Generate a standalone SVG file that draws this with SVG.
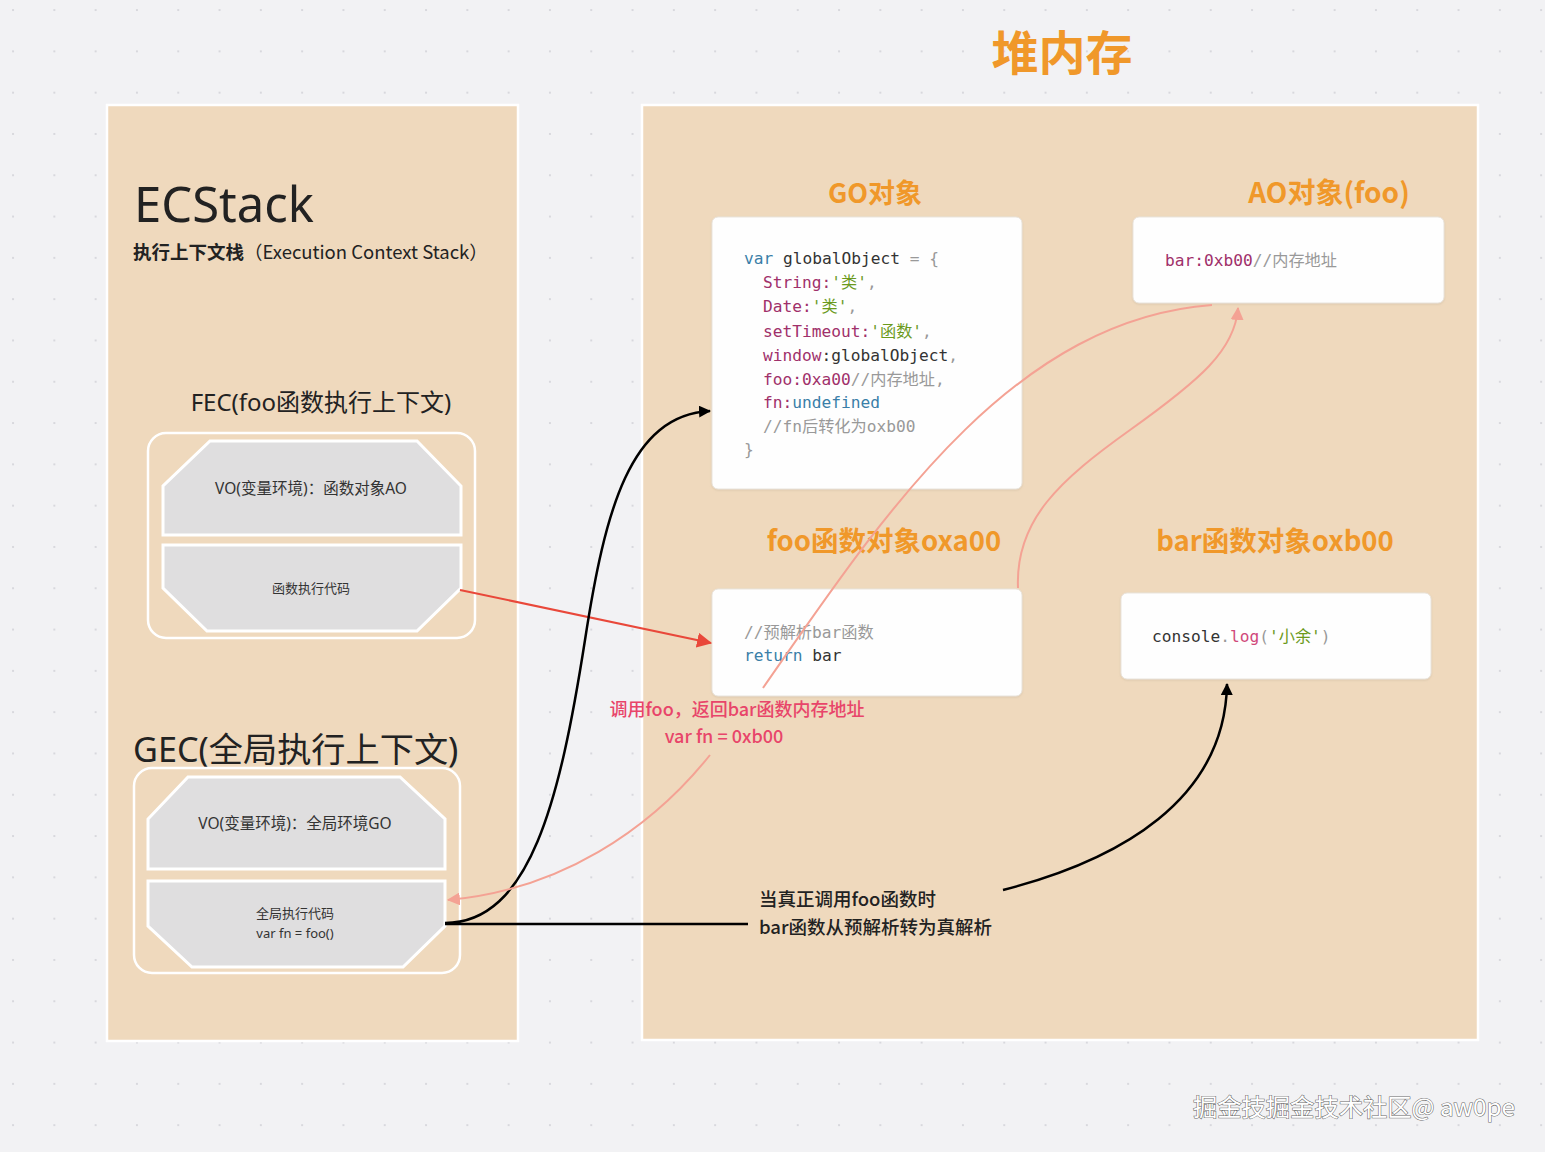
<svg xmlns="http://www.w3.org/2000/svg" width="1545" height="1152" viewBox="0 0 1545 1152">
<defs>
  <pattern id="dots" patternUnits="userSpaceOnUse" x="-7.6" y="-10.6" width="41.3" height="41.3">
    <circle cx="20.65" cy="20.65" r="0.9" fill="#cdcdd2"/>
  </pattern>
  <marker id="ah-black" viewBox="0 0 12 12" refX="11" refY="6" markerWidth="12" markerHeight="12" markerUnits="userSpaceOnUse" orient="auto">
    <path d="M0,0 L12,6 L0,12 Z" fill="#000"/>
  </marker>
  <marker id="ah-red" viewBox="0 0 14 14" refX="13" refY="7" markerWidth="15" markerHeight="15" markerUnits="userSpaceOnUse" orient="auto">
    <path d="M0,0 L14,7 L0,14 Z" fill="#e9483a"/>
  </marker>
  <marker id="ah-salmon" viewBox="0 0 12 12" refX="11" refY="6" markerWidth="13" markerHeight="13" markerUnits="userSpaceOnUse" orient="auto">
    <path d="M0,0 L12,6 L0,12 Z" fill="#f4a294"/>
  </marker>
  <filter id="sh" x="-5%" y="-5%" width="110%" height="115%">
    <feDropShadow dx="0" dy="1" stdDeviation="1.2" flood-color="#b9a88f" flood-opacity="0.35"/>
  </filter>
</defs>
<style>
  .panel { fill: #efd9bd; stroke: #ffffff; stroke-width: 2.5; }
  .frame { fill: none; stroke: #ffffff; stroke-width: 2.5; }
  .oct { fill: #dfdedf; stroke: #ffffff; stroke-width: 3; }
  .card { fill: #fefefe; stroke: #e9e4dc; stroke-width: 1; }
  .sans { font-family: "Noto Sans", "Noto Sans CJK SC", sans-serif; }
  .cjk { font-family: "Noto Sans CJK SC", "Noto Sans", sans-serif; }
  .orange { fill: #f0982a; font-weight: bold; }
  .dark { fill: #222222; }
  .octtxt { fill: #333333; font-size: 15.5px; }
  .small { fill: #333333; font-size: 13px; }
  .code { font-family: "DejaVu Sans Mono", "Noto Sans CJK SC", monospace; font-size: 16.2px; fill: #333333; }
  .kw { fill: #3a7ea8; }
  .prop { fill: #a0306a; }
  .str { fill: #6b9a1c; }
  .pun { fill: #999999; }
  .cmt { fill: #999999; }
  .fnc { fill: #d0487a; }
  .redtxt { fill: #e8456a; font-size: 18px; font-weight: 500; }
  .conn-black { fill: none; stroke: #000; stroke-width: 2.5; }
  .conn-red { fill: none; stroke: #e9483a; stroke-width: 2; }
  .conn-salmon { fill: none; stroke: #f4a294; stroke-width: 2; }
  .wm { font-family: "Noto Sans CJK SC", "Noto Sans", sans-serif; font-size: 24px; fill: #ffffff; stroke: #6a6a6a; stroke-width: 1.1; paint-order: stroke; }
</style>

<rect x="0" y="0" width="1545" height="1152" fill="#f2f2f4"/>
<rect x="0" y="0" width="1545" height="1152" fill="url(#dots)"/>

<g id="title">
  <text x="1062" y="70" text-anchor="middle" class="cjk orange" font-size="47">堆内存</text>
</g>

<g id="ecstack-panel">
  <rect class="panel" x="107" y="105" width="411" height="936"/>
  <text x="134" y="222" class="sans dark" font-size="49">ECStack</text>
  <text x="133" y="259" class="cjk dark" font-size="18.5"><tspan font-weight="bold">执行上下文栈</tspan><tspan>（Execution Context Stack）</tspan></text>
</g>

<g id="heap-panel">
  <rect class="panel" x="642" y="105" width="836" height="935"/>
</g>

<g id="fec">
  <text x="321" y="411" text-anchor="middle" class="sans dark" font-size="24">FEC(foo函数执行上下文)</text>
  <rect class="frame" x="148" y="433" width="327" height="205" rx="18"/>
  <g id="fec-vo">
    <polygon class="oct" points="210,441 417,441 461,486 461,535 163,535 163,486"/>
    <text x="311" y="494" text-anchor="middle" class="sans octtxt">VO(变量环境)：函数对象AO</text>
  </g>
  <g id="fec-code">
    <polygon class="oct" points="163,545 461,545 461,588 417,631 207,631 163,588"/>
    <text x="311" y="593" text-anchor="middle" class="sans small">函数执行代码</text>
  </g>
</g>

<g id="gec">
  <text x="133" y="762" class="sans dark" font-size="34.2">GEC(全局执行上下文)</text>
  <rect class="frame" x="134" y="768" width="326" height="205" rx="18"/>
  <g id="gec-vo">
    <polygon class="oct" points="188,777 400,777 445,819 445,869 148,869 148,819"/>
    <text x="295" y="829" text-anchor="middle" class="sans octtxt">VO(变量环境)：全局环境GO</text>
  </g>
  <g id="gec-code">
    <polygon class="oct" points="148,881 445,881 445,926 403,967 192,967 148,926"/>
    <text x="295" y="918" text-anchor="middle" class="sans small">全局执行代码</text>
    <text x="295" y="938" text-anchor="middle" class="sans small">var fn = foo()</text>
  </g>
</g>

<g id="go-object">
  <text x="875" y="203" text-anchor="middle" class="cjk orange" font-size="27">GO对象</text>
  <rect class="card" x="712" y="217" width="310" height="272" rx="6" filter="url(#sh)"/>
  <text class="code" x="744" y="264"><tspan class="kw">var</tspan> globalObject <tspan class="pun">= {</tspan></text>
  <text class="code" x="763" y="288"><tspan class="prop">String</tspan><tspan class="prop">:</tspan><tspan class="str">'类'</tspan><tspan class="pun">,</tspan></text>
  <text class="code" x="763" y="312"><tspan class="prop">Date</tspan><tspan class="prop">:</tspan><tspan class="str">'类'</tspan><tspan class="pun">,</tspan></text>
  <text class="code" x="763" y="337"><tspan class="prop">setTimeout</tspan><tspan class="prop">:</tspan><tspan class="str">'函数'</tspan><tspan class="pun">,</tspan></text>
  <text class="code" x="763" y="361"><tspan class="prop">window</tspan>:globalObject<tspan class="pun">,</tspan></text>
  <text class="code" x="763" y="385"><tspan class="prop">foo</tspan><tspan class="prop">:0xa00</tspan><tspan class="cmt">//内存地址,</tspan></text>
  <text class="code" x="763" y="408"><tspan class="prop">fn</tspan><tspan class="prop">:</tspan><tspan class="kw">undefined</tspan></text>
  <text class="code" x="763" y="432"><tspan class="cmt">//fn后转化为oxb00</tspan></text>
  <text class="code" x="744" y="455"><tspan class="pun">}</tspan></text>
</g>

<g id="ao-object">
  <text x="1329" y="203" text-anchor="middle" class="cjk orange" font-size="28">AO对象(foo)</text>
  <rect class="card" x="1133" y="217" width="311" height="86" rx="6" filter="url(#sh)"/>
  <text class="code" x="1165" y="266"><tspan class="prop">bar</tspan><tspan class="prop">:0xb00</tspan><tspan class="cmt">//内存地址</tspan></text>
</g>

<g id="foo-object">
  <text x="884" y="551" text-anchor="middle" class="cjk orange" font-size="27.5">foo函数对象oxa00</text>
  <rect class="card" x="712" y="589" width="310" height="107" rx="6" filter="url(#sh)"/>
  <text class="code" x="744" y="638"><tspan class="cmt">//预解析bar函数</tspan></text>
  <text class="code" x="744" y="661"><tspan class="kw">return</tspan> bar</text>
</g>

<g id="bar-object">
  <text x="1275" y="551" text-anchor="middle" class="cjk orange" font-size="27.5">bar函数对象oxb00</text>
  <rect class="card" x="1121" y="593" width="310" height="86" rx="6" filter="url(#sh)"/>
  <text class="code" x="1152" y="642">console<tspan class="pun">.</tspan><tspan class="fnc">log</tspan><tspan class="pun">(</tspan><tspan class="str">'小余'</tspan><tspan class="pun">)</tspan></text>
</g>

<g id="connectors">
  <path class="conn-red" d="M460,590 L711,643" marker-end="url(#ah-red)"/>
  <path class="conn-black" d="M445,923 C530,923 560,800 585,640 C605,510 630,415 710,411" marker-end="url(#ah-black)"/>
  <path class="conn-black" d="M445,924 L748,924"/>
  <path class="conn-black" d="M1003,890 C1120,860 1225,800 1227,684" marker-end="url(#ah-black)"/>
  <path class="conn-salmon" d="M763,688 C880,520 1010,320 1212,305"/>
  <path class="conn-salmon" d="M1018,588 C1015,520 1060,480 1130,430 C1200,380 1235,350 1238,308" marker-end="url(#ah-salmon)"/>
  <path class="conn-salmon" d="M710,755 C650,830 560,890 448,900" marker-end="url(#ah-salmon)"/>
</g>

<g id="labels">
  <text x="737" y="716" text-anchor="middle" class="cjk redtxt">调用foo，返回bar函数内存地址</text>
  <text x="724" y="743" text-anchor="middle" class="cjk redtxt">var fn = 0xb00</text>
  <text x="759" y="906" class="cjk dark" font-size="18.5" font-weight="500">当真正调用foo函数时</text>
  <text x="759" y="934" class="cjk dark" font-size="18.5" font-weight="500">bar函数从预解析转为真解析</text>
</g>

<g id="watermark">
  <text x="1193" y="1116" class="wm" textLength="322" lengthAdjust="spacingAndGlyphs">掘金技掘金技术社区@ aw0pe</text>
</g>
</svg>
